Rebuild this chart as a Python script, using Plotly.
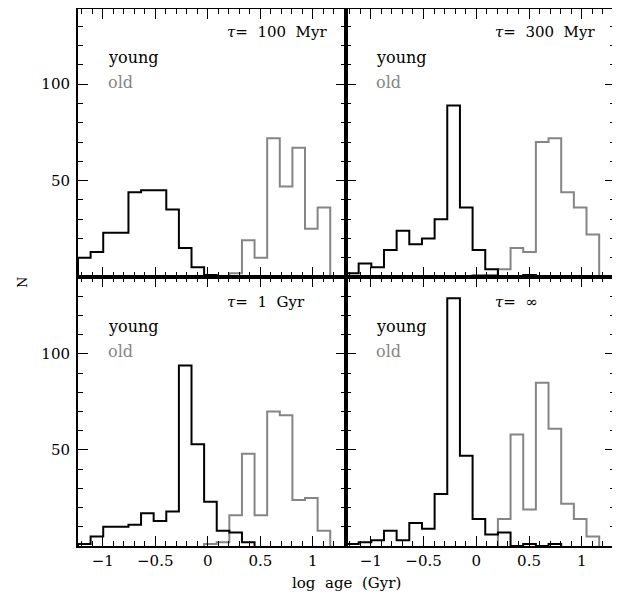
import plotly.graph_objects as go

# ---- data ----
bin_start = -1.235
bin_width = 0.12
n_bins = 20
edges = [round(bin_start + bin_width * k, 4) for k in range(n_bins + 1)]

panel_labels = ["<i>\u03c4</i>=\u00a0\u00a0100\u00a0\u00a0Myr",
                "<i>\u03c4</i>=\u00a0\u00a0300\u00a0\u00a0Myr",
                "<i>\u03c4</i>=\u00a0\u00a01\u00a0\u00a0Gyr",
                "<i>\u03c4</i>=\u00a0\u00a0\u221e"]

young_100myr = [10, 13, 23, 23, 44, 45, 45, 35, 15, 5, 1, 0, 0, 0, 0, 0, 0, 0, 0, 0]
old_100myr   = [0, 0, 0, 0, 0, 0, 0, 0, 0, 0, 0, 0, 2, 19, 10, 72, 47, 67, 25, 36]

young_300myr = [2, 7, 5, 14, 24, 17, 20, 30, 89, 36, 14, 4, 0, 0, 1, 0, 0, 0, 0, 0]
old_300myr   = [0, 0, 0, 0, 0, 0, 0, 0, 0, 0, 1, 1, 4, 15, 13, 70, 72, 44, 36, 22]

young_1gyr = [1, 5, 10, 10, 11, 17, 13, 18, 94, 53, 23, 8, 7, 2, 0, 0, 0, 0, 0, 0]
old_1gyr   = [0, 0, 0, 0, 0, 0, 0, 0, 0, 0, 1, 2, 16, 48, 16, 70, 68, 24, 25, 8]

young_inf = [1, 2, 3, 8, 3, 12, 9, 27, 129, 47, 14, 6, 7, 0, 1, 0, 1, 0, 0, 0]
old_inf   = [0, 0, 0, 0, 0, 0, 0, 0, 0, 0, 0, 0, 14, 58, 19, 85, 61, 22, 14, 5]

young_sets = [young_100myr, young_300myr, young_1gyr, young_inf]
old_sets = [old_100myr, old_300myr, old_1gyr, old_inf]

x_ticks = [-1, -0.5, 0, 0.5, 1]
y_ticks = [0, 50, 100]
y_ticktext = ["", "50", "100"]

YOUNG_COLOR = "black"
OLD_COLOR = "#858585"
FONT = "DejaVu Serif"

# page has an 8px body margin; size the figure to the visible area
OFF = 8
W, H = 620 - OFF, 599 - OFF


def px_x(px):
    return min(1.0, max(0.0, (px - OFF) / W))


def px_y(py):
    return min(1.0, max(0.0, (H - (py - OFF)) / H))


def step_xy(counts):
    nz = [i for i, c in enumerate(counts) if c > 0]
    i0, i1 = nz[0], nz[-1]
    xs = [edges[i0]] + edges[i0:i1 + 2]
    ys = [0] + counts[i0:i1 + 1] + [0]
    return xs, ys


fig = go.Figure()

for p in range(4):
    suffix = "" if p == 0 else str(p + 1)
    for counts, color in ((old_sets[p], OLD_COLOR), (young_sets[p], YOUNG_COLOR)):
        xs, ys = step_xy(counts)
        fig.add_trace(go.Scatter(x=xs, y=ys, mode="lines", line_shape="hv",
                                 line=dict(color=color, width=2),
                                 xaxis="x" + suffix, yaxis="y" + suffix,
                                 showlegend=False, hoverinfo="skip"))

x_dom = [[px_x(78), px_x(346)], [px_x(346), px_x(615)]]
y_dom = [[px_y(277), px_y(9)], [px_y(546), px_y(277)]]

layout = dict(width=W, height=H, margin=dict(l=0, r=0, t=0, b=0),
              paper_bgcolor="white", plot_bgcolor="white", showlegend=False,
              font=dict(family=FONT, size=15, color="black"))

annotations = []
for p in range(4):
    row, col = divmod(p, 2)
    suffix = "" if p == 0 else str(p + 1)
    xa = dict(domain=x_dom[col], range=[-1.235, 1.315], anchor="y" + suffix,
              tickmode="array", tickvals=x_ticks,
              ticks="inside", ticklen=10, tickwidth=1, tickcolor="black",
              minor=dict(tickmode="linear", tick0=0, dtick=0.1, ticks="inside",
                         ticklen=5, tickwidth=1, tickcolor="black"),
              showline=True, linewidth=2, linecolor="black", mirror="allticks",
              showgrid=False, zeroline=False, showticklabels=(row == 1),
              tickfont=dict(family=FONT, size=15))
    ya = dict(domain=y_dom[row], range=[0, 140 if row == 1 else 139], anchor="x" + suffix,
              tickmode="array", tickvals=y_ticks, ticktext=y_ticktext,
              ticks="inside", ticklen=10, tickwidth=1, tickcolor="black",
              minor=dict(tickmode="linear", tick0=0, dtick=10, ticks="inside",
                         ticklen=5, tickwidth=1, tickcolor="black"),
              showline=True, linewidth=2, linecolor="black", mirror="allticks",
              showgrid=False, zeroline=False, showticklabels=(col == 0),
              ticklabelstandoff=3,
              tickfont=dict(family=FONT, size=15))
    layout["xaxis" + suffix] = xa
    layout["yaxis" + suffix] = ya
    annotations.append(dict(xref="x" + suffix, yref="y" + suffix, x=0.16, y=127,
                            text=panel_labels[p], showarrow=False, xanchor="left",
                            yanchor="middle", font=dict(family=FONT, size=15, color="black")))
    annotations.append(dict(xref="x" + suffix, yref="y" + suffix, x=-0.965, y=114,
                            text="young", showarrow=False, xanchor="left",
                            yanchor="middle", font=dict(family=FONT, size=16, color=YOUNG_COLOR)))
    annotations.append(dict(xref="x" + suffix, yref="y" + suffix, x=-0.965, y=101,
                            text="old", showarrow=False, xanchor="left",
                            yanchor="middle", font=dict(family=FONT, size=16, color=OLD_COLOR)))

annotations.append(dict(xref="paper", yref="paper", x=px_x(346), y=px_y(583),
                        text="log\u00a0\u00a0age\u00a0\u00a0(Gyr)", showarrow=False,
                        xanchor="center", yanchor="middle",
                        font=dict(family=FONT, size=15, color="black")))
annotations.append(dict(xref="paper", yref="paper", x=px_x(22), y=px_y(282),
                        text="N", showarrow=False, textangle=-90,
                        xanchor="center", yanchor="middle",
                        font=dict(family=FONT, size=13, color="black")))
layout["annotations"] = annotations

fig.update_layout(**layout)
fig.write_html("out.html")
